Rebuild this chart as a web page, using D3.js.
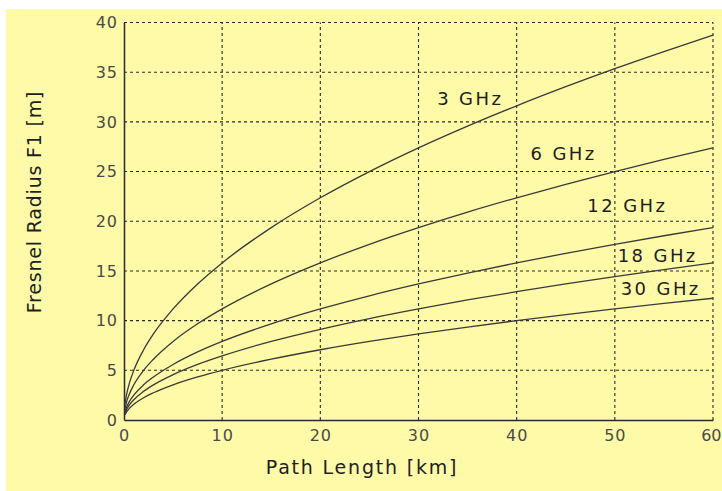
<!DOCTYPE html>
<html>
<head>
<meta charset="utf-8">
<script src="https://cdn.jsdelivr.net/npm/d3@7"></script>
<style>
  html, body { margin: 0; padding: 0; background: #ffffff; }
  svg { display: block; }
  text { font-family: "DejaVu Sans", sans-serif; }
</style>
</head>
<body>
<svg id="chart" width="722" height="491"></svg>
<script>
// Path length along the link, km
const pathKm = [0.1, 0.25, 0.5, 1, 2, 3, 5, 7.5, 10, 15, 20, 25, 30, 35, 40, 45, 50, 55, 60];

// First Fresnel zone radius at mid-path, m, one list per frequency
const r3GHz  = [1.58, 2.50, 3.54, 5.00, 7.07, 8.66, 11.18, 13.69, 15.81, 19.36, 22.36, 25.00, 27.39, 29.58, 31.62, 33.54, 35.36, 37.08, 38.73];
const r6GHz  = [1.12, 1.77, 2.50, 3.54, 5.00, 6.12, 7.91, 9.68, 11.18, 13.69, 15.81, 17.68, 19.36, 20.92, 22.36, 23.72, 25.00, 26.22, 27.39];
const r12GHz = [0.79, 1.25, 1.77, 2.50, 3.54, 4.33, 5.59, 6.85, 7.91, 9.68, 11.18, 12.50, 13.69, 14.79, 15.81, 16.77, 17.68, 18.54, 19.36];
const r18GHz = [0.65, 1.02, 1.44, 2.04, 2.89, 3.54, 4.56, 5.59, 6.45, 7.91, 9.13, 10.21, 11.18, 12.08, 12.91, 13.69, 14.43, 15.14, 15.81];
const r30GHz = [0.50, 0.79, 1.12, 1.58, 2.24, 2.74, 3.54, 4.33, 5.00, 6.12, 7.07, 7.91, 8.66, 9.35, 10.00, 10.61, 11.18, 11.73, 12.25];

const seriesNames = ["3 GHz", "6 GHz", "12 GHz", "18 GHz", "30 GHz"];
const seriesValues = [r3GHz, r6GHz, r12GHz, r18GHz, r30GHz];

const xTicks = [0, 10, 20, 30, 40, 50, 60];
const yTicks = [0, 5, 10, 15, 20, 25, 30, 35, 40];

const svg = d3.select("#chart");

// pale yellow panel
svg.append("rect")
  .attr("x", 6).attr("y", 9)
  .attr("width", 716).attr("height", 482)
  .attr("fill", "#fefaa8");

const x = d3.scaleLinear().domain([0, 60]).range([124, 713]);
const y = d3.scaleLinear().domain([0, 40]).range([420, 22.5]);

const ink = "#2b2b2b";
const tickInk = "#4a4a4a";

// dashed grid, including the top and right frame lines
const grid = svg.append("g").attr("stroke", ink).attr("stroke-width", 1.1)
  .attr("stroke-dasharray", "3,3").attr("fill", "none");
grid.selectAll("line.v").data(xTicks.filter(d => d > 0)).join("line")
  .attr("class", "v")
  .attr("x1", d => x(d)).attr("x2", d => x(d))
  .attr("y1", y(0)).attr("y2", y(40));
grid.selectAll("line.h").data(yTicks.filter(d => d > 0)).join("line")
  .attr("class", "h")
  .attr("x1", x(0)).attr("x2", x(60))
  .attr("y1", d => y(d)).attr("y2", d => y(d));

// axes: solid left and bottom lines, labels only
const xAxis = d3.axisBottom(x).tickValues(xTicks).tickSize(0).tickPadding(10);
const yAxis = d3.axisLeft(y).tickValues(yTicks).tickSize(0).tickPadding(6);

const gx = svg.append("g").attr("transform", `translate(0,${y(0)})`).call(xAxis);
const gy = svg.append("g").attr("transform", `translate(${x(0)},0)`).call(yAxis);
[gx, gy].forEach(g => {
  g.select(".domain").attr("stroke", ink).attr("stroke-width", 1.5);
  g.selectAll("text")
    .attr("fill", tickInk)
    .style("font-size", "16px")
    .style("letter-spacing", "1px")
    .style("font-family", "'DejaVu Sans', sans-serif");
});
// last x label sits flush against the right edge of the panel
gx.selectAll(".tick").filter(d => d === 60).select("text")
  .attr("text-anchor", "end").attr("x", 8).style("letter-spacing", "0px");

// curves
const line = d3.line()
  .x((d, i) => x(pathKm[i]))
  .y(d => y(d))
  .curve(d3.curveMonotoneX);

svg.append("g").selectAll("path").data(seriesValues).join("path")
  .attr("d", d => line(d))
  .attr("fill", "none")
  .attr("stroke", "#3a3a3a")
  .attr("stroke-width", 1.3);

// in-plot frequency labels, anchored in data units
const labelAnchors = [[31.9, 31.7], [41.4, 26.2], [47.2, 20.9], [50.3, 15.9], [50.6, 12.6]];
svg.append("g").selectAll("text").data(seriesNames).join("text")
  .attr("x", (d, i) => x(labelAnchors[i][0]))
  .attr("y", (d, i) => y(labelAnchors[i][1]))
  .attr("fill", "#1e1e1e")
  .style("font-size", "18px")
  .style("letter-spacing", "2.4px")
  .text(d => d);

// axis titles
svg.append("text")
  .attr("x", 362).attr("y", 474)
  .attr("text-anchor", "middle")
  .attr("fill", "#1e1e1e")
  .style("font-size", "19px")
  .style("letter-spacing", "1.8px")
  .text("Path Length [km]");

svg.append("text")
  .attr("transform", "translate(41,202) rotate(-90)")
  .attr("text-anchor", "middle")
  .attr("fill", "#1e1e1e")
  .style("font-size", "19px")
  .style("letter-spacing", "0.8px")
  .text("Fresnel Radius F1 [m]");
</script>
</body>
</html>
